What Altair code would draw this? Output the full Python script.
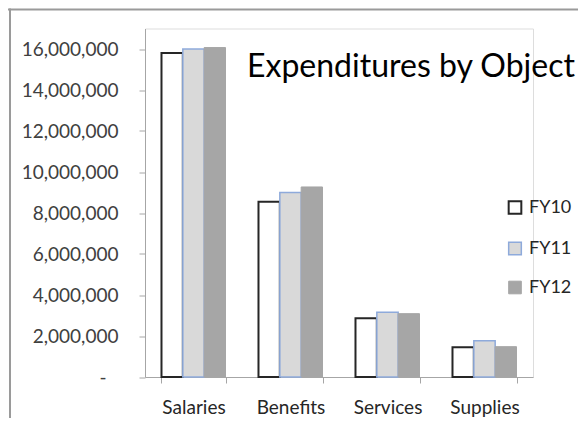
import altair as alt
import pandas as pd

categories = ["Salaries", "Benefits", "Services", "Supplies"]
series = ["FY10", "FY11", "FY12"]
fy10 = [15800000, 8550000, 2860000, 1450000]
fy11 = [16000000, 9000000, 3160000, 1770000]
fy12 = [16070000, 9270000, 3090000, 1480000]
y_ticks = [0, 2000000, 4000000, 6000000, 8000000, 10000000, 12000000, 14000000, 16000000]
title_text = "Expenditures by Object"

rows = []
for s, vals in zip(series, [fy10, fy11, fy12]):
    for c, v in zip(categories, vals):
        rows.append({"category": c, "series": s, "value": v})
df = pd.DataFrame(rows)

FONT = "Lato"
fills = ["#ffffff", "#d9d9d9", "#a6a6a6"]
strokes = ["#262626", "#8eaadb", "#a6a6a6"]
widths = [2, 1, 1]
AXIS_GRAY = "#a6a6a6"

legend_kw = dict(title=None, orient="none", legendX=361, legendY=170,
                 symbolType="square", symbolSize=160, symbolStrokeWidth=1.5,
                 labelFont=FONT, labelFontSize=18, labelColor="#262626",
                 rowPadding=20, labelOffset=5)

bars = alt.Chart(df).mark_bar().encode(
    x=alt.X(
        "category:N", sort=categories,
        scale=alt.Scale(paddingInner=0.34, paddingOuter=0.17),
        axis=alt.Axis(title=None, tickBand="extent", labelAngle=0, labelFont=FONT,
                      labelFontSize=19, labelColor="#262626", labelPadding=15,
                      domainColor=AXIS_GRAY, tickColor=AXIS_GRAY, tickSize=6),
    ),
    xOffset=alt.XOffset("series:N", sort=series),
    y=alt.Y(
        "value:Q",
        scale=alt.Scale(domain=[0, 17000000], nice=False),
        axis=alt.Axis(values=y_ticks, title=None, grid=False, labelFont=FONT,
                      labelFontSize=19, labelColor="#404040",
                      labelPadding={"condition": {"test": "datum.value === 0", "value": 33},
                                    "value": 21},
                      domainColor=AXIS_GRAY, tickColor=AXIS_GRAY, tickSize=6,
                      labelExpr="datum.value == 0 ? '-' : format(datum.value, ',')"),
    ),
    fill=alt.Fill("series:N", sort=series, scale=alt.Scale(domain=series, range=fills),
                  legend=alt.Legend(**legend_kw)),
    stroke=alt.Stroke("series:N", sort=series, scale=alt.Scale(domain=series, range=strokes),
                      legend=alt.Legend(**legend_kw)),
    strokeWidth=alt.StrokeWidth("series:N", sort=series,
                                scale=alt.Scale(domain=series, range=widths), legend=None),
)

title_df = pd.DataFrame({"t": [title_text]})
title = alt.Chart(title_df).mark_text(
    align="left", baseline="alphabetic", font=FONT, fontSize=32, color="#000000"
).encode(x=alt.value(102), y=alt.value(48.5), text="t:N")

frame_df = pd.DataFrame({"k": [0]})
top_line = alt.Chart(frame_df).mark_rule(color="#9a9a9a", strokeWidth=2).encode(
    x=alt.value(-137), x2=alt.value(440), y=alt.value(-19), y2=alt.value(-19)
)
left_line = alt.Chart(frame_df).mark_rule(color="#9a9a9a", strokeWidth=2).encode(
    x=alt.value(-135), x2=alt.value(-135), y=alt.value(-20), y2=alt.value(400)
)

chart = alt.layer(bars, title, top_line, left_line).properties(
    width=388,
    height=348.5,
    padding={"left": 137, "top": 20.5, "right": 45, "bottom": 41},
    autosize=alt.AutoSizeParams(type="none"),
).configure_view(stroke=None).configure(background="white")

chart.save("out.html", embed_options={"renderer": "svg", "actions": False})
